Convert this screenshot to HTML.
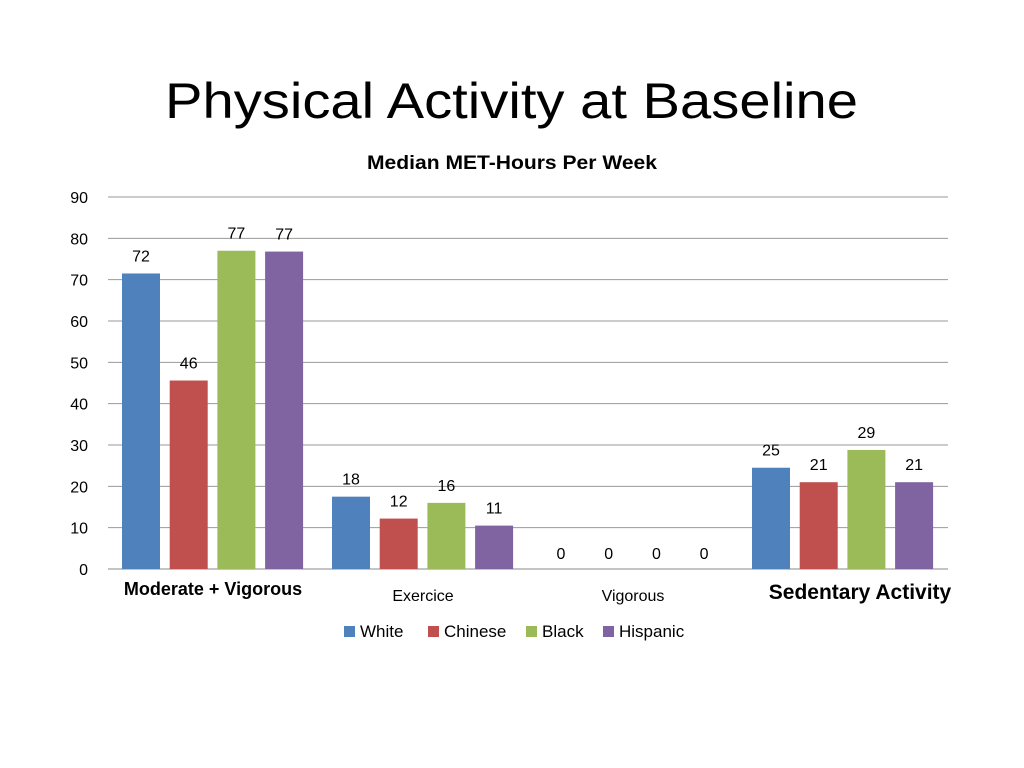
<!DOCTYPE html>
<html><head><meta charset="utf-8"><style>
body{margin:0;background:#fff;}
svg{display:block;font-family:"Liberation Sans",sans-serif;}
</style></head><body>
<svg id="chart" width="1024" height="768">
<text x="165" y="118" font-size="50" fill="#000" textLength="693" lengthAdjust="spacingAndGlyphs">Physical Activity at Baseline</text>
<text x="367" y="169" font-size="19" font-weight="bold" fill="#000" textLength="290" lengthAdjust="spacingAndGlyphs">Median MET-Hours Per Week</text>
<g id="grid"></g><g id="bars"></g><g id="labels"></g>
<g font-size="17">
<rect x="344" y="626" width="11" height="11" fill="#4f81bd"/><text x="360" y="637">White</text>
<rect x="428" y="626" width="11" height="11" fill="#c0504d"/><text x="444" y="637">Chinese</text>
<rect x="526" y="626" width="11" height="11" fill="#9bbb59"/><text x="542" y="637">Black</text>
<rect x="603" y="626" width="11" height="11" fill="#8064a2"/><text x="619" y="637">Hispanic</text>
</g>
</svg>
<script>
const categories=["Moderate + Vigorous","Exercice","Vigorous","Sedentary Activity"];
const white=[71.5,17.5,0,24.5];
const chinese=[45.6,12.2,0,21];
const black=[77,16,0,28.8];
const hispanic=[76.8,10.5,0,21];
const whiteLbl=["72","18","0","25"];
const chineseLbl=["46","12","0","21"];
const blackLbl=["77","16","0","29"];
const hispanicLbl=["77","11","0","21"];
const yTicks=[0,10,20,30,40,50,60,70,80,90];
const NS="http://www.w3.org/2000/svg";
const x0=108,x1=948,yB=569,yT=197,yMax=90;
const y=v=>yB-(v/yMax)*(yB-yT);
const gw=(x1-x0)/categories.length;
function mk(t,a,p){const e=document.createElementNS(NS,t);for(const k in a)e.setAttribute(k,a[k]);p.appendChild(e);return e;}
const grid=document.getElementById('grid');
yTicks.forEach(t=>{
 const l=mk('line',{x1:x0,x2:x1,y1:y(t),y2:y(t),stroke:t===0?'#888':'#999','stroke-width':1},grid);
 
 
 const tx=mk('text',{x:88,y:y(t)+6,'font-size':16,'text-anchor':'end',fill:'#000'},grid);
 tx.textContent=t;
 
 
});
const series=[[white,whiteLbl,'#4f81bd','white'],[chinese,chineseLbl,'#c0504d','chinese'],[black,blackLbl,'#9bbb59','black'],[hispanic,hispanicLbl,'#8064a2','hispanic']];
const bars=document.getElementById('bars'),labels=document.getElementById('labels');
categories.forEach((c,i)=>{
 series.forEach((s,j)=>{
  const bx=x0+i*gw+14+j*47.7;
  const v=s[0][i];
  if(v>0){const r=mk('rect',{x:bx,y:y(v),width:38,height:yB-y(v),fill:s[2]},bars);
  
  }
  const t=mk('text',{x:bx+19,y:y(v)-(v>0?12:10),'font-size':16,'text-anchor':'middle'},labels);
  t.textContent=s[1][i];
  
  
 });
 const cx=x0+i*gw+gw/2;
 const big=(i===0||i===3);
 const ct=mk('text',{x:i===3?860:cx,y:big?(i===0?595:599):601,'font-size':i===0?18:(i===3?21:16),'font-weight':big?'bold':'normal','text-anchor':'middle'},labels);
 ct.textContent=c;
 
 
});
</script>
</body></html>
